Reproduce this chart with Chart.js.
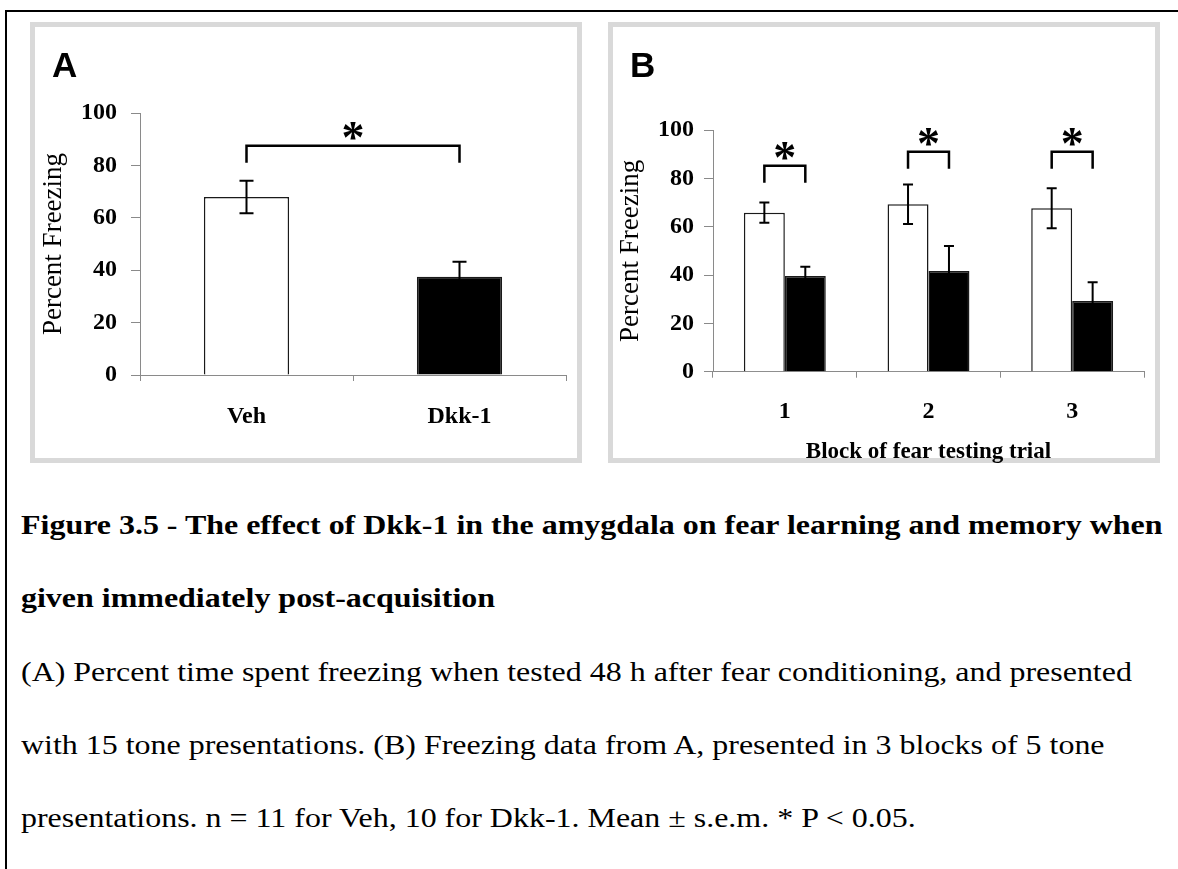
<!DOCTYPE html>
<html>
<head>
<meta charset="utf-8">
<title>Figure 3.5 - Dkk-1 in the amygdala and fear memory</title>
<script src="https://cdn.jsdelivr.net/npm/chart.js@4.4.1/dist/chart.umd.min.js"></script>
<style>
  html, body { margin: 0; padding: 0; background: #fff; }
  body { position: relative; width: 1178px; height: 869px; overflow: hidden;
         font-family: "Liberation Serif", "Times New Roman", serif; color: #000; }
  .rule-top { position: absolute; left: 5px; right: 0; top: 10px; border-top: 2px solid #000; }
  .rule-left { position: absolute; left: 5px; top: 10px; bottom: 0; border-left: 2px solid #000; }
  .panel { position: absolute; top: 22px; width: 542px; height: 431px;
           border: 5px solid #d9d9d9; background: #fff; }
  #panelA { left: 30px; }
  #panelB { left: 608px; }
  .panel canvas { position: absolute; left: 0; top: 0; }
  .letter { position: absolute; top: 20px; left: 17px;
            font: bold 35px "Liberation Sans", Arial, sans-serif; line-height: 1; }
  /* the printed caption is a little wider than Liberation Serif, hence the stretch */
  .caption { position: absolute; left: 21px; top: 488px; font-size: 27.5px;
             line-height: 73.3px; white-space: nowrap;
             transform: scaleX(1.162); transform-origin: 0 0; }
  .caption .bold { font-weight: bold; }
</style>
</head>
<body>
<div class="rule-top"></div>
<div class="rule-left"></div>

<div class="panel" id="panelA">
  <canvas id="chartA" width="542" height="440"></canvas>
  <div class="letter">A</div>
</div>
<div class="panel" id="panelB">
  <canvas id="chartB" width="542" height="440"></canvas>
  <div class="letter">B</div>
</div>

<div class="caption">
  <div class="bold">Figure 3.5 - The effect of Dkk-1 in the amygdala on fear learning and memory when</div>
  <div class="bold">given immediately post-acquisition</div>
  <div>(A) Percent time spent freezing when tested 48 h after fear conditioning, and presented</div>
  <div>with 15 tone presentations. (B) Freezing data from A, presented in 3 blocks of 5 tone</div>
  <div>presentations. n = 11 for Veh, 10 for Dkk-1. Mean &plusmn; s.e.m. * P &lt; 0.05.</div>
</div>

<script>
// ---------- data ----------
const yTicks = [0, 20, 40, 60, 80, 100];

// panel A: whole session
const groupsA = ['Veh', 'Dkk-1'];
const meanA = [67.9, 37.5];
const semA = [6.2, 5.7];
const sigLevelA = [87.5];

// panel B: blocks of 5 tones
const blocks = ['1', '2', '3'];
const vehMean = [65.8, 69.3, 67.6];
const vehSem = [4.2, 8.2, 8.3];
const dkkMean = [39.6, 41.7, 29.3];
const dkkSem = [3.8, 10.3, 7.7];
const sigLevelB = [85.2, 91, 91];

// ---------- shared look ----------
const SERIF = '"Liberation Serif", "Times New Roman", serif';
const AXIS_GREY = '#8a8a8a';
Chart.defaults.font.family = SERIF;
Chart.defaults.color = '#000';

const tickFont = { family: SERIF, size: 24, weight: 'bold' };

// error bars: mean +/- sem, drawn from the y scale
const errorBarPlugin = {
    id: 'errorBars',
    afterDatasetsDraw: function (chart, args, opts) {
        const y = chart.scales.y;
        const ctx = chart.ctx;
        ctx.save();
        ctx.strokeStyle = '#000';
        ctx.lineWidth = 2;
        chart.data.datasets.forEach(function (ds, di) {
            const meta = chart.getDatasetMeta(di);
            meta.data.forEach(function (bar, i) {
                const m = ds.data[i], e = opts.sem[di][i];
                const yt = y.getPixelForValue(m + e);
                const yb = y.getPixelForValue(m - e);
                const w = opts.cap / 2;
                ctx.beginPath();
                ctx.moveTo(bar.x, yt); ctx.lineTo(bar.x, yb);
                ctx.moveTo(bar.x - w, yt); ctx.lineTo(bar.x + w, yt);
                ctx.moveTo(bar.x - w, yb); ctx.lineTo(bar.x + w, yb);
                ctx.stroke();
            });
        });
        ctx.restore();
    }
};

// significance brackets with an asterisk on top
const bracketPlugin = {
    id: 'sigBrackets',
    afterDatasetsDraw: function (chart, args, opts) {
        const y = chart.scales.y;
        const ctx = chart.ctx;
        ctx.save();
        ctx.strokeStyle = '#000';
        ctx.fillStyle = '#000';
        ctx.lineWidth = 2.5;
        ctx.font = 'bold 46px ' + SERIF;
        ctx.textAlign = 'center';
        ctx.textBaseline = 'alphabetic';
        opts.pairs.forEach(function (p, k) {
            const x1 = chart.getDatasetMeta(p.a[0]).data[p.a[1]].x;
            const x2 = chart.getDatasetMeta(p.b[0]).data[p.b[1]].x;
            const yy = y.getPixelForValue(opts.levels[k]);
            ctx.beginPath();
            ctx.moveTo(x1, yy + 17);
            ctx.lineTo(x1, yy);
            ctx.lineTo(x2, yy);
            ctx.lineTo(x2, yy + 17);
            ctx.stroke();
            ctx.fillText('*', (x1 + x2) / 2, yy + 7.5);
        });
        ctx.restore();
    }
};

function yScale(width, labelPad, titlePad) {
    return {
        min: 0, max: 100,
        afterBuildTicks: function (s) { s.ticks = yTicks.map(function (v) { return { value: v }; }); },
        grid: { drawOnChartArea: false, tickLength: 9, color: AXIS_GREY },
        border: { display: true, color: AXIS_GREY, width: 1 },
        ticks: { font: tickFont, color: '#000', padding: labelPad },
        title: { display: true, text: 'Percent Freezing', color: '#000',
                 font: { family: SERIF, size: 27 }, padding: { top: titlePad, bottom: 0 } },
        afterFit: function (s) { s.width = width; }
    };
}

// ---------- panel A ----------
new Chart(document.getElementById('chartA'), {
    type: 'bar',
    data: {
        labels: groupsA,
        datasets: [{
            label: 'Freezing',
            data: meanA,
            backgroundColor: ['#ffffff', '#000000'],
            borderColor: '#1a1a1a',
            borderWidth: 1.5,
            barPercentage: 0.4,
            categoryPercentage: 1
        }]
    },
    options: {
        responsive: false,
        animation: false,
        layout: { padding: { top: 86, right: 11, left: 0, bottom: 0 } },
        plugins: {
            legend: { display: false },
            tooltip: { enabled: false },
            errorBars: { sem: [semA], cap: 14 },
            sigBrackets: { pairs: [{ a: [0, 0], b: [0, 1] }], levels: sigLevelA }
        },
        scales: {
            x: {
                grid: { drawOnChartArea: false, tickLength: 6, color: AXIS_GREY },
                border: { display: true, color: AXIS_GREY, width: 1 },
                ticks: { font: tickFont, color: '#000', padding: 21 },
                afterFit: function (s) { s.height = 440 - 348; }
            },
            y: yScale(105, 14, 3)
        }
    },
    plugins: [errorBarPlugin, bracketPlugin]
});

// ---------- panel B ----------
new Chart(document.getElementById('chartB'), {
    type: 'bar',
    data: {
        labels: blocks,
        datasets: [
            { label: 'Veh', data: vehMean, backgroundColor: '#ffffff', borderColor: '#1a1a1a',
              borderWidth: 1.5, barPercentage: 1, categoryPercentage: 0.57 },
            { label: 'Dkk-1', data: dkkMean, backgroundColor: '#000000', borderColor: '#1a1a1a',
              borderWidth: 1.5, barPercentage: 1, categoryPercentage: 0.57 }
        ]
    },
    options: {
        responsive: false,
        animation: false,
        layout: { padding: { top: 103, right: 11, left: 0, bottom: 0 } },
        plugins: {
            legend: { display: false },
            tooltip: { enabled: false },
            errorBars: { sem: [vehSem, dkkSem], cap: 10 },
            sigBrackets: {
                pairs: [{ a: [0, 0], b: [1, 0] }, { a: [0, 1], b: [1, 1] }, { a: [0, 2], b: [1, 2] }],
                levels: sigLevelB
            }
        },
        scales: {
            x: {
                grid: { drawOnChartArea: false, tickLength: 6, color: AXIS_GREY },
                border: { display: true, color: AXIS_GREY, width: 1 },
                ticks: { font: tickFont, color: '#000', padding: 20 },
                title: { display: true, text: 'Block of fear testing trial', color: '#000',
                         font: { family: SERIF, size: 23, weight: 'bold' }, padding: { top: 0, bottom: 1 } },
                afterFit: function (s) { s.height = 440 - 344.7; }
            },
            y: yScale(100, 10, 2)
        }
    },
    plugins: [errorBarPlugin, bracketPlugin]
});
</script>
</body>
</html>
